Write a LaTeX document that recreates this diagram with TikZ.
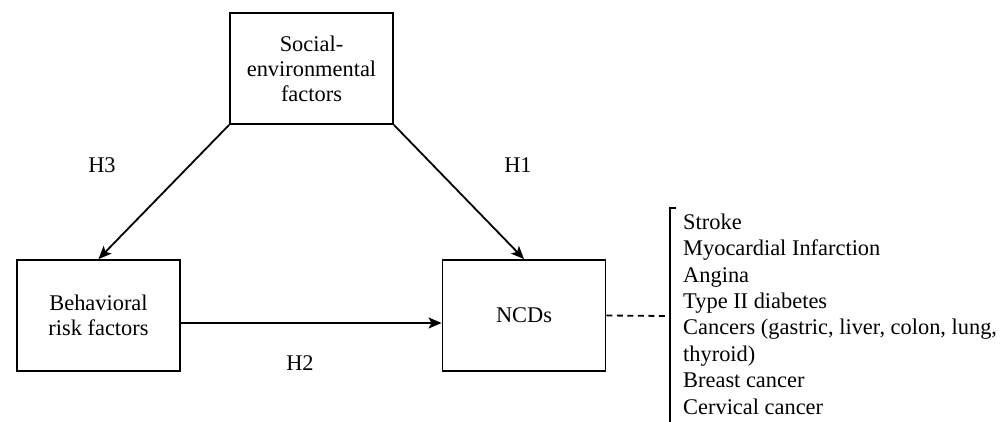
\documentclass[tikz,border=0pt]{standalone}
\usepackage{fontspec}
\setmainfont{Liberation Serif}
\usetikzlibrary{arrows.meta}
\begin{document}
\begin{tikzpicture}[x=1pt,y=-1pt,
  box/.style={draw, line width=1.9pt, minimum width=163pt, minimum height=111pt, align=center, inner sep=0pt, font=\fontsize{22.4}{25}\selectfont},
  lbl/.style={font=\fontsize{22.4}{25}\selectfont, inner sep=0pt},
  arr/.style={-{Stealth[length=13pt,width=11pt,inset=3pt]}, line width=1.8pt},
  ln/.style={line width=1.8pt}]
\useasboundingbox (0,0) rectangle (1008,421);
\node[box] (soc) at (311.5,68.5) {Social-\\environmental\\factors};
\node[box] (beh) at (98.5,315.5) {Behavioral\\risk factors};
\node[box] (ncd) at (524,315.5) {NCDs};
\coordinate (hy) at (0,323);
\draw[arr] (soc.south west) -- (beh.north);
\draw[arr] (soc.south east) -- (ncd.north);
\draw[arr] (beh.east |- hy) -- (ncd.west |- hy);
\node[lbl] (h3) at (102,165) {H3};
\node[lbl] (h1) at (518,165) {H1};
\node[lbl] (h2) at (300,363) {H2};
\coordinate (bm) at (670,316);
\coordinate (bt) at (670,208);
\coordinate (btick) at (675.5,208);
\coordinate (bb) at (670,425);
\draw[ln, dash pattern=on 6pt off 4.5pt] (ncd.east) -- (bm);
\draw[ln] (btick) -- (bt) -- (bb);
\node[lbl, anchor=base west, align=left, font=\fontsize{22.4}{26.4}\selectfont] (list) at (683,414) {Stroke\\Myocardial Infarction\\Angina\\Type II diabetes\\Cancers (gastric, liver, colon, lung,\\thyroid)\\Breast cancer\\Cervical cancer};
\end{tikzpicture}
\end{document}
